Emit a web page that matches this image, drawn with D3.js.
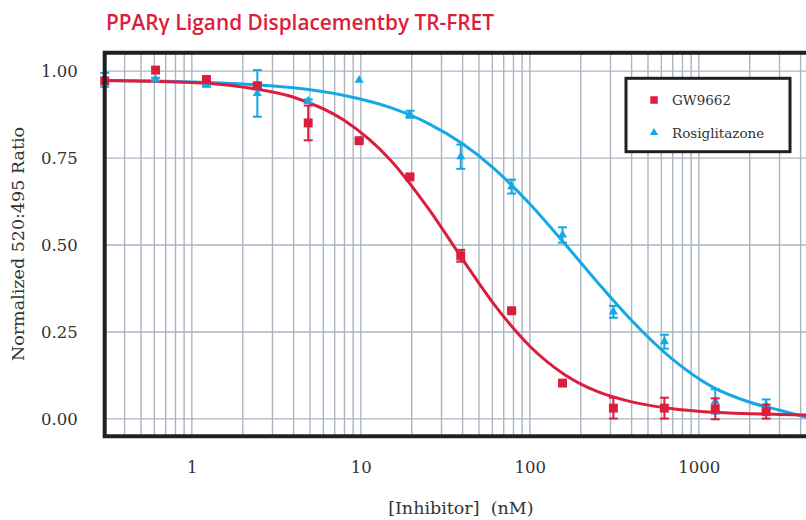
<!DOCTYPE html>
<html>
<head>
<meta charset="utf-8">
<script src="https://cdn.jsdelivr.net/npm/d3@7"></script>
<style>
  html, body { margin: 0; padding: 0; background: #fff; }
  svg { display: block; }
</style>
</head>
<body>
<svg id="chart" width="806" height="520"></svg>
<script>
// ---------- data ----------
const concentrations = [0.305, 0.61, 1.22, 2.44, 4.88, 9.77, 19.5, 39, 78, 156, 312, 625, 1250, 2500];

const gwMean = [0.972, 1.003, 0.976, 0.958, 0.851, 0.800, 0.696, 0.469, 0.311, 0.103, 0.031, 0.031, 0.029, 0.021];
const gwErr  = [0.000, 0.000, 0.008, 0.008, 0.050, 0.005, 0.005, 0.017, 0.005, 0.005, 0.030, 0.030, 0.030, 0.020];

const rosiMean = [0.975, 0.976, 0.965, 0.936, 0.914, 0.974, 0.876, 0.754, 0.668, 0.529, 0.308, 0.222, 0.050, 0.040];
const rosiErr  = [0.020, 0.005, 0.010, 0.067, 0.005, 0.000, 0.010, 0.035, 0.020, 0.022, 0.017, 0.020, 0.035, 0.016];

// fitted curves
const fitConc   = [0.305, 1, 2, 4, 8, 15, 25, 40, 60, 100, 160, 250, 400, 700, 1200, 2000, 3000, 5000];
const gwFit     = [0.973, 0.967, 0.954, 0.925, 0.858, 0.744, 0.606, 0.459, 0.336, 0.209, 0.128, 0.079, 0.049, 0.029, 0.019, 0.015, 0.013, 0.011];
const rosiFit   = [0.973, 0.969, 0.963, 0.952, 0.930, 0.895, 0.850, 0.791, 0.724, 0.618, 0.505, 0.394, 0.283, 0.171, 0.092, 0.048, 0.025, -0.003];

const seriesNames = ["GW9662", "Rosiglitazone"];
const xTickValues = [1, 10, 100, 1000];
const yTickValues = [0, 0.25, 0.5, 0.75, 1.0];

const titleText = "PPAR\u03b3 Ligand Displacementby TR-FRET";
const xTitle = "[Inhibitor]  (nM)";
const yTitle = "Normalized 520:495 Ratio";

// ---------- styles ----------
const RED = "#dc1e3e";
const BLUE = "#14a9e4";
const GRID = "#aab5c0";
const FRAME = "#231f20";
const TEXT = "#333";
const SERIF = "'DejaVu Serif', serif";

// ---------- layout ----------
const plot = { left: 104.7, right: 817, top: 52.7, bottom: 436.3 };

const svg = d3.select("#chart");

const x = d3.scaleLog().domain([0.305, 5000]).range([plot.left, plot.right]);
const y = d3.scaleLinear().domain([-0.05, 1.053]).range([plot.bottom, plot.top]);

// grid
const gGrid = svg.append("g");
gGrid.selectAll("line.v").data(x.ticks()).join("line")
  .attr("x1", d => x(d)).attr("x2", d => x(d))
  .attr("y1", plot.top).attr("y2", plot.bottom)
  .attr("stroke", GRID).attr("stroke-width", 1.4);
gGrid.selectAll("line.h").data(yTickValues).join("line")
  .attr("x1", plot.left).attr("x2", plot.right)
  .attr("y1", d => y(d)).attr("y2", d => y(d))
  .attr("stroke", GRID).attr("stroke-width", 1.4);

// curves
const line = d3.line().x(d => x(d[0])).y(d => y(d[1])).curve(d3.curveMonotoneX);
svg.append("path").datum(fitConc.map((c, i) => [c, rosiFit[i]]))
  .attr("d", line).attr("fill", "none").attr("stroke", BLUE).attr("stroke-width", 3);
svg.append("path").datum(fitConc.map((c, i) => [c, gwFit[i]]))
  .attr("d", line).attr("fill", "none").attr("stroke", RED).attr("stroke-width", 3);

// error bars + markers
function drawSeries(means, errs, color, shape) {
  const data = concentrations.map((c, i) => ({ c, m: means[i], e: errs[i] }));
  const g = svg.append("g");
  const eb = data.filter(d => d.e > 0.003);
  const cap = 4.5;
  g.selectAll("line.stem").data(eb).join("line")
    .attr("x1", d => x(d.c)).attr("x2", d => x(d.c))
    .attr("y1", d => y(d.m - d.e)).attr("y2", d => y(d.m + d.e))
    .attr("stroke", color).attr("stroke-width", 2);
  g.selectAll("line.capT").data(eb).join("line")
    .attr("x1", d => x(d.c) - cap).attr("x2", d => x(d.c) + cap)
    .attr("y1", d => y(d.m + d.e)).attr("y2", d => y(d.m + d.e))
    .attr("stroke", color).attr("stroke-width", 2);
  g.selectAll("line.capB").data(eb).join("line")
    .attr("x1", d => x(d.c) - cap).attr("x2", d => x(d.c) + cap)
    .attr("y1", d => y(d.m - d.e)).attr("y2", d => y(d.m - d.e))
    .attr("stroke", color).attr("stroke-width", 2);
  g.selectAll("path.mk").data(data).join("path")
    .attr("transform", d => `translate(${x(d.c)},${y(d.m)})`)
    .attr("d", d3.symbol().type(shape).size(shape === d3.symbolSquare ? 80 : 36))
    .attr("fill", color);
}
drawSeries(rosiMean, rosiErr, BLUE, d3.symbolTriangle);
drawSeries(gwMean, gwErr, RED, d3.symbolSquare);

// frame
const frame = svg.append("g").attr("stroke", FRAME).attr("stroke-width", 4).attr("fill", "none");
frame.append("path").attr("d",
  `M${plot.right},${plot.top}H${plot.left}V${plot.bottom}H${plot.right}`)
  .attr("stroke-linecap", "square");

// axes
const xAxis = svg.append("g").attr("transform", `translate(0,${plot.bottom})`)
  .call(d3.axisBottom(x).tickValues(xTickValues).tickFormat(d3.format("d")).tickSize(0).tickPadding(24.5));
xAxis.select(".domain").remove();
xAxis.selectAll("text").attr("font-family", SERIF).attr("font-size", 16.5).attr("fill", TEXT);

const yAxis = svg.append("g").attr("transform", `translate(${plot.left},0)`)
  .call(d3.axisLeft(y).tickValues(yTickValues).tickFormat(d3.format(".2f")).tickSize(0).tickPadding(27));
yAxis.select(".domain").remove();
yAxis.selectAll("text").attr("font-family", SERIF).attr("font-size", 16.5).attr("fill", TEXT);

// titles
svg.append("text").attr("x", 106).attr("y", 30)
  .attr("font-family", "'Open Sans', sans-serif").attr("font-weight", 600)
  .attr("font-size", 20.8).attr("fill", RED).text(titleText);

svg.append("text").attr("x", (plot.left + plot.right) / 2).attr("y", 514)
  .attr("text-anchor", "middle").attr("font-family", SERIF).attr("font-size", 17.5)
  .attr("fill", TEXT).attr("xml:space", "preserve").style("white-space", "pre").text(xTitle);

svg.append("text").attr("transform", "translate(24,244) rotate(-90)")
  .attr("text-anchor", "middle").attr("font-family", SERIF).attr("font-size", 17.5)
  .attr("fill", TEXT).text(yTitle);

// legend
const lg = svg.append("g");
lg.append("rect").attr("x", 626).attr("y", 78.3).attr("width", 164).attr("height", 73.4)
  .attr("fill", "#fff").attr("stroke", FRAME).attr("stroke-width", 3);
const legendRows = [
  { name: seriesNames[0], color: RED, shape: d3.symbolSquare, size: 56, cy: 100 },
  { name: seriesNames[1], color: BLUE, shape: d3.symbolTriangle, size: 30, cy: 132.7 }
];
legendRows.forEach(r => {
  lg.append("path").attr("transform", `translate(654,${r.cy})`)
    .attr("d", d3.symbol().type(r.shape).size(r.size)).attr("fill", r.color);
  lg.append("text").attr("x", 672).attr("y", r.cy + 5)
    .attr("font-family", SERIF).attr("font-size", 13.5).attr("fill", TEXT).text(r.name);
});
</script>
</body>
</html>
